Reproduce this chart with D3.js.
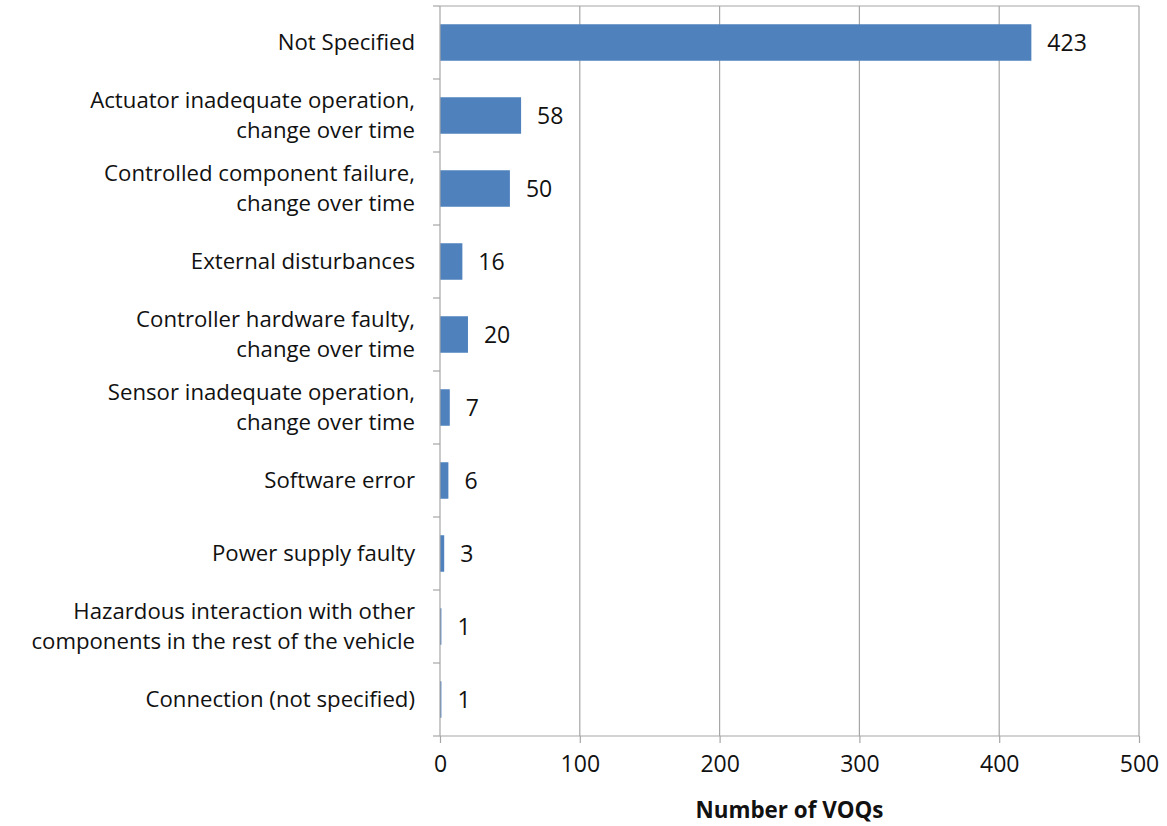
<!DOCTYPE html>
<html><head><meta charset="utf-8">
<script src="https://cdn.jsdelivr.net/npm/d3@7"></script>
<style>body{margin:0;background:#fff}</style>
</head><body>
<svg id="c" width="1167" height="826"></svg>
<script>
const categories = [
  ["Not Specified"],
  ["Actuator inadequate operation,", "change over time"],
  ["Controlled component failure,", "change over time"],
  ["External disturbances"],
  ["Controller hardware faulty,", "change over time"],
  ["Sensor inadequate operation,", "change over time"],
  ["Software error"],
  ["Power supply faulty"],
  ["Hazardous interaction with other", "components in the rest of the vehicle"],
  ["Connection (not specified)"]
];
const values = [423, 58, 50, 16, 20, 7, 6, 3, 1, 1];
const xTicks = [0, 100, 200, 300, 400, 500];
const xTitle = "Number of VOQs";

const font = "'Open Sans', sans-serif";
const svg = d3.select("#c");
const L = 440, R = 1139, T = 6, B = 736;
const x = d3.scaleLinear().domain([0, 500]).range([L, R]);
const idx = categories.map((d, i) => i);
const y = d3.scaleBand().domain(idx).range([T, B]).paddingInner(0.5).paddingOuter(0.25);

// gridlines
svg.append("g").selectAll("line").data(xTicks.slice(1)).join("line")
  .attr("x1", d => x(d)).attr("x2", d => x(d)).attr("y1", T).attr("y2", B)
  .attr("stroke", "#a6a6a6").attr("stroke-width", 1.2);
// plot border top
svg.append("line").attr("x1", L).attr("x2", R).attr("y1", T).attr("y2", T).attr("stroke", "#a6a6a6").attr("stroke-width", 1.2);

// bars
svg.append("g").selectAll("rect").data(values).join("rect")
  .attr("x", x(0)).attr("y", (d, i) => y(i))
  .attr("width", d => x(d) - x(0)).attr("height", y.bandwidth())
  .attr("fill", "#4F81BD");

// value labels
svg.append("g").selectAll("text").data(values).join("text")
  .attr("x", d => x(d) + 16).attr("y", (d, i) => y(i) + y.bandwidth() / 2)
  .attr("dy", "0.35em").attr("font-family", font).attr("font-size", 23).attr("fill", "#111")
  .text(d => d);

// x axis
const xAxis = d3.axisBottom(x).tickValues(xTicks).tickSize(7).tickPadding(13);
const gx = svg.append("g").attr("transform", `translate(0,${B})`).call(xAxis);
gx.select(".domain").attr("stroke", "#a6a6a6").attr("stroke-width", 1.2).attr("d", `M${L},0H${R}`);
gx.selectAll(".tick line").attr("stroke", "#a6a6a6").attr("stroke-width", 1.2);
gx.selectAll("text").attr("font-family", font).attr("font-size", 23).attr("fill", "#111");

// y axis line and ticks at band boundaries
svg.append("line").attr("x1", L).attr("x2", L).attr("y1", T).attr("y2", B).attr("stroke", "#a6a6a6").attr("stroke-width", 1.2);
const bounds = d3.range(categories.length + 1).map(i => T + i * (B - T) / categories.length);
svg.append("g").selectAll("line").data(bounds).join("line")
  .attr("x1", L - 7).attr("x2", L).attr("y1", d => d).attr("y2", d => d)
  .attr("stroke", "#a6a6a6").attr("stroke-width", 1.2);

// category labels
const lg = svg.append("g");
categories.forEach((lines, i) => {
  const cy = y(i) + y.bandwidth() / 2;
  const lh = 30;
  lines.forEach((ln, j) => {
    lg.append("text").attr("text-anchor", "end").attr("font-family", font)
      .attr("font-size", 22.2).attr("fill", "#111")
      .attr("x", L - 25)
      .attr("y", cy + (j - (lines.length - 1) / 2) * lh).attr("dy", "0.35em").text(ln);
  });
});

// x title
svg.append("text").attr("x", (L + R) / 2).attr("y", 810).attr("dy", "0.35em")
  .attr("text-anchor", "middle").attr("font-family", font).attr("font-size", 22.4)
  .attr("font-weight", "bold").attr("fill", "#111").text(xTitle);
</script>
</body></html>
